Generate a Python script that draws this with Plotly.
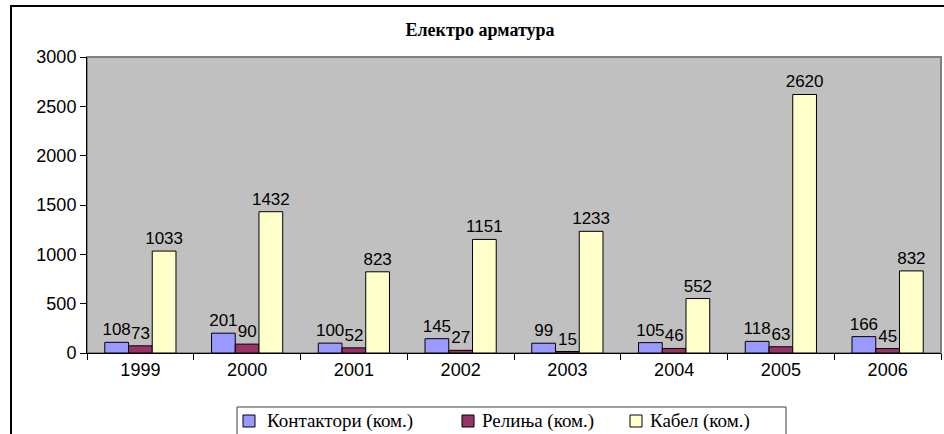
import plotly.graph_objects as go

years = ["1999", "2000", "2001", "2002", "2003", "2004", "2005", "2006"]
kontaktori = [108, 201, 100, 145, 99, 105, 118, 166]
relinja = [73, 90, 52, 27, 15, 46, 63, 45]
kabel = [1033, 1432, 823, 1151, 1233, 552, 2620, 832]

series_names = ["Контактори (ком.)", "Релиња (ком.)", "Кабел (ком.)"]
series_colors = ["#9999FF", "#993366", "#FFFFCC"]

W, H = 944, 434
L, R, T, B = 87, 3, 57, 81
plot_w = W - L - R
plot_h = H - T - B

SANS = "Liberation Sans"
SERIF = "Liberation Serif"


def px_x(p):
    return (p - L) / plot_w


def px_y(p):
    return (H - B - p) / plot_h


fig = go.Figure()
for name, vals, col in zip(series_names, [kontaktori, relinja, kabel], series_colors):
    fig.add_trace(go.Bar(
        x=years, y=vals, name=name,
        marker=dict(color=col, line=dict(color="black", width=1)),
        text=[str(v) for v in vals], textposition="outside",
        constraintext="none",
        textfont=dict(family=SANS, size=17, color="black"),
        cliponaxis=False,
    ))

# outer chart frame (runs past the page edge on the right and bottom)
fig.add_shape(type="rect", xref="paper", yref="paper",
              x0=px_x(11), x1=1.2, y0=-1.0, y1=px_y(6),
              line=dict(color="black", width=2), layer="below")

# gray frame around the plot area
fig.add_shape(type="rect", xref="paper", yref="paper", x0=0, x1=1, y0=0, y1=1,
              line=dict(color="#808080", width=2), layer="below")

# legend box with swatches and labels
fig.add_shape(type="rect", xref="paper", yref="paper",
              x0=px_x(237), x1=px_x(786), y0=px_y(460), y1=px_y(407),
              line=dict(color="#404040", width=1), fillcolor="white")
swatch_x = [243, 462, 630]
label_x = [265, 480, 648]
for sx, lx, name, col in zip(swatch_x, label_x, series_names, series_colors):
    fig.add_shape(type="rect", xref="paper", yref="paper",
                  x0=px_x(sx), x1=px_x(sx + 12), y0=px_y(427), y1=px_y(415),
                  line=dict(color="black", width=1), fillcolor=col)
    fig.add_annotation(xref="paper", yref="paper", x=px_x(lx), y=px_y(421),
                       text=name, showarrow=False, xanchor="left", yanchor="middle",
                       font=dict(family=SERIF, size=19, color="black"))

fig.update_layout(
    width=W, height=H,
    margin=dict(l=L, r=R, t=T, b=B, autoexpand=False),
    paper_bgcolor="white",
    plot_bgcolor="#C0C0C0",
    barmode="group",
    bargap=0.333,
    bargroupgap=0,
    showlegend=False,
    title=dict(text="<b>Електро арматура</b>", x=480 / W, xanchor="center",
               y=1 - 30 / H, yanchor="middle",
               font=dict(family=SERIF, size=18, color="black")),
    xaxis=dict(showgrid=False, showline=True, linecolor="black", linewidth=1,
               ticks="outside", tickson="boundaries", ticklen=6, tickcolor="black",
               tickangle=0,
               tickfont=dict(family=SANS, size=18, color="black")),
    yaxis=dict(range=[0, 3000], dtick=500, showgrid=False, showline=True,
               linecolor="black", linewidth=1, ticks="outside", ticklen=6,
               tickcolor="black", zeroline=False,
               tickfont=dict(family=SANS, size=18, color="black")),
)

fig.write_html("out.html")
